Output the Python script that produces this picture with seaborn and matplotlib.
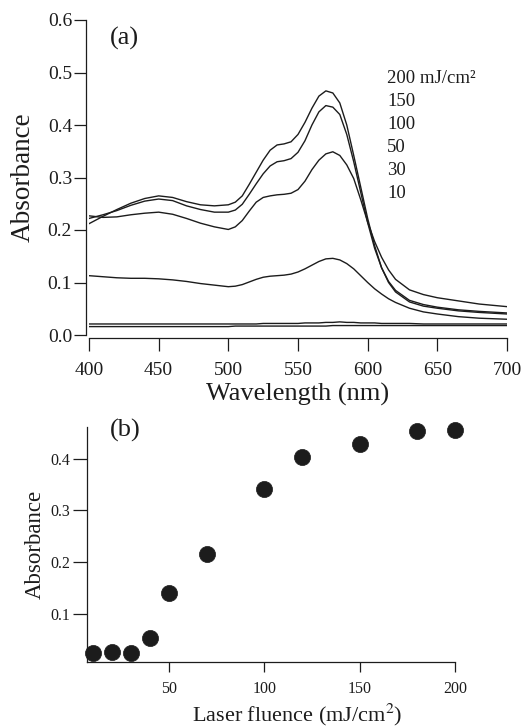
import matplotlib
matplotlib.use('Agg')
import matplotlib.pyplot as plt
import seaborn as sns
import pandas as pd

sns.set_style("white")
plt.rcParams['font.family'] = ['Liberation Serif', 'DejaVu Serif']
plt.rcParams['mathtext.fontset'] = 'stix'

# -------------------------------Datos panel (a): espectros de absorción
longitud_onda = [400, 410, 420, 430, 440, 450, 460, 470, 480, 490, 500,
                 505, 510, 515, 520, 525, 530, 535, 540, 545, 550, 555, 560,
                 565, 570, 575, 580, 585, 590, 595, 600, 605, 610, 615, 620,
                 630, 640, 650, 665, 680, 700]

abs_200 = [0.212, 0.226, 0.239, 0.251, 0.260, 0.265, 0.262, 0.254, 0.248, 0.246, 0.248,
           0.253, 0.265, 0.287, 0.310, 0.333, 0.352, 0.362, 0.364, 0.368, 0.382, 0.405, 0.432,
           0.455, 0.465, 0.461, 0.442, 0.400, 0.342, 0.282, 0.222, 0.170, 0.128, 0.100, 0.082,
           0.063, 0.055, 0.051, 0.046, 0.043, 0.040]
abs_150 = [0.222, 0.229, 0.237, 0.247, 0.255, 0.259, 0.256, 0.246, 0.239, 0.234, 0.234,
           0.238, 0.249, 0.268, 0.288, 0.307, 0.322, 0.330, 0.332, 0.336, 0.348, 0.370, 0.400,
           0.425, 0.437, 0.434, 0.420, 0.382, 0.330, 0.272, 0.214, 0.165, 0.128, 0.102, 0.085,
           0.066, 0.058, 0.053, 0.048, 0.045, 0.042]
abs_100 = [0.227, 0.224, 0.225, 0.229, 0.232, 0.234, 0.230, 0.222, 0.213, 0.206, 0.201,
           0.206, 0.218, 0.236, 0.253, 0.262, 0.265, 0.267, 0.268, 0.270, 0.277, 0.293, 0.315,
           0.333, 0.345, 0.349, 0.342, 0.324, 0.298, 0.258, 0.215, 0.178, 0.148, 0.124, 0.106,
           0.086, 0.077, 0.071, 0.065, 0.059, 0.054]
abs_50 = [0.113, 0.111, 0.109, 0.108, 0.108, 0.107, 0.105, 0.102, 0.098, 0.095, 0.092,
          0.093, 0.096, 0.101, 0.106, 0.110, 0.112, 0.113, 0.114, 0.116, 0.120, 0.126, 0.133,
          0.140, 0.145, 0.146, 0.143, 0.136, 0.126, 0.113, 0.100, 0.088, 0.078, 0.069, 0.062,
          0.051, 0.044, 0.040, 0.035, 0.032, 0.030]
abs_30 = [0.021, 0.021, 0.021, 0.021, 0.021, 0.021, 0.021, 0.021, 0.021, 0.021, 0.021,
          0.021, 0.021, 0.021, 0.021, 0.022, 0.022, 0.022, 0.022, 0.022, 0.022, 0.023, 0.023,
          0.023, 0.024, 0.024, 0.025, 0.024, 0.024, 0.023, 0.023, 0.023, 0.022, 0.022, 0.022,
          0.022, 0.021, 0.021, 0.021, 0.021, 0.021]
abs_10 = [0.016, 0.016, 0.016, 0.016, 0.016, 0.016, 0.016, 0.016, 0.016, 0.016, 0.016,
          0.017, 0.017, 0.017, 0.017, 0.017, 0.017, 0.017, 0.017, 0.017, 0.017, 0.017, 0.017,
          0.017, 0.017, 0.018, 0.018, 0.018, 0.018, 0.018, 0.018, 0.018, 0.018, 0.018, 0.018,
          0.018, 0.018, 0.018, 0.018, 0.018, 0.018]

espectros = [abs_200, abs_150, abs_100, abs_50, abs_30, abs_10]
etiquetas_fluencia = ['200 mJ/cm²', '150', '100', '50', '30', '10']

# -------------------------------Datos panel (b): absorbancia vs fluencia
fluencia = [10, 20, 30, 40, 50, 70, 100, 120, 150, 180, 200]
abs_pico = [0.023, 0.025, 0.023, 0.053, 0.140, 0.215, 0.341, 0.404, 0.429, 0.454, 0.457]

color_linea = '#1c1c1c'

fig = plt.figure(figsize=(5.26, 7.27), dpi=100)

# -------------------------------Panel (a)
ax_a = fig.add_axes([89 / 526, 1 - 335 / 727, 418 / 526, 315 / 727])
for valores in espectros:
    df = pd.DataFrame({'wl': longitud_onda, 'abs': valores})
    sns.lineplot(data=df, x='wl', y='abs', color=color_linea, linewidth=1.0, ax=ax_a)

ax_a.set_xlim(400, 700)
ax_a.set_ylim(0, 0.6)
ax_a.set_xticks([400, 450, 500, 550, 600, 650, 700])
ax_a.set_yticks([0.0, 0.1, 0.2, 0.3, 0.4, 0.5, 0.6])
ax_a.set_yticklabels(['0.0', '0.1', '0.2', '0.3', '0.4', '0.5', '0.6'])
for lado in ['top', 'right']:
    ax_a.spines[lado].set_visible(False)
ax_a.spines['left'].set_position(('outward', 2.2))
ax_a.spines['bottom'].set_position(('outward', 2.2))
for lado in ['left', 'bottom']:
    ax_a.spines[lado].set_linewidth(0.9)
    ax_a.spines[lado].set_color(color_linea)
ax_a.tick_params(axis='y', left=True, direction='out', length=9, width=0.9, pad=1, labelsize=14, colors=color_linea)
ax_a.tick_params(axis='x', bottom=True, direction='out', length=9.5, width=0.9, pad=7.5, labelsize=14, colors=color_linea)
ax_a.set_xlabel('Wavelength (nm)', fontsize=19, color=color_linea)
ax_a.set_ylabel('Absorbance', fontsize=19.5, color=color_linea)
ax_a.xaxis.set_label_coords(0.5, -0.152)
ax_a.yaxis.set_label_coords(-0.128, 0.5)
ax_a.text(415, 0.564, '(a)', fontsize=19, va='center', ha='left', color=color_linea)
for i, etiqueta in enumerate(etiquetas_fluencia):
    ax_a.text(614, 0.489 - i * 0.0438, etiqueta, fontsize=13.5, va='center', ha='left', color=color_linea)

# -------------------------------Panel (b)
ax_b = fig.add_axes([87 / 526, 1 - 662 / 727, 368 / 526, 235 / 727])
sns.scatterplot(x=fluencia, y=abs_pico, s=135, color=color_linea, edgecolor=color_linea,
                linewidth=0.5, clip_on=False, zorder=3, ax=ax_b)
ax_b.set_xlim(7, 200)
ax_b.set_ylim(0.006, 0.462)
ax_b.set_xticks([50, 100, 150, 200])
ax_b.set_yticks([0.1, 0.2, 0.3, 0.4])
ax_b.set_yticklabels(['0.1', '0.2', '0.3', '0.4'])
for lado in ['top', 'right']:
    ax_b.spines[lado].set_visible(False)
for lado in ['left', 'bottom']:
    ax_b.spines[lado].set_linewidth(0.9)
    ax_b.spines[lado].set_color(color_linea)
ax_b.tick_params(axis='y', left=True, direction='out', length=10, width=0.9, pad=2, labelsize=11.5, colors=color_linea)
ax_b.tick_params(axis='x', bottom=True, direction='out', length=7.5, width=0.9, pad=6, labelsize=11.5, colors=color_linea)
ax_b.set_xlabel('Laser fluence (mJ/cm$^2$)', fontsize=16, color=color_linea)
ax_b.set_ylabel('Absorbance', fontsize=16.5, color=color_linea)
ax_b.xaxis.set_label_coords(0.57, -0.168)
ax_b.yaxis.set_label_coords(-0.112, 0.5)
ax_b.text(19, 0.456, '(b)', fontsize=19, va='center', ha='left', color=color_linea, clip_on=False)

plt.savefig('out.png', dpi=100)
plt.close()
